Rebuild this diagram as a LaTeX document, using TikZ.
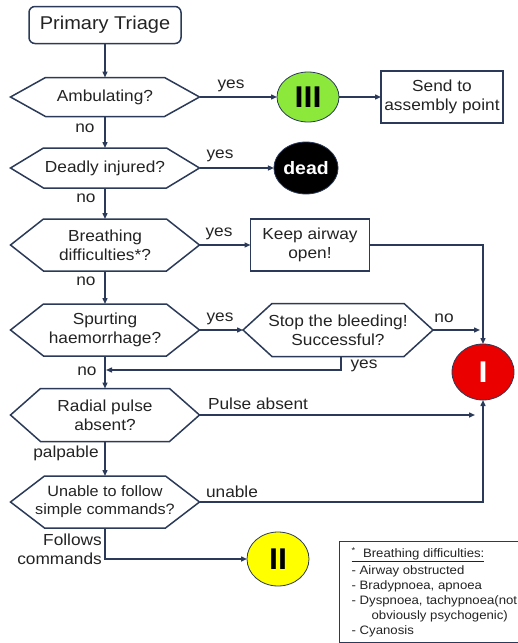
\documentclass[tikz,border=0pt]{standalone}
\usepackage{fontspec}
\setmainfont{Liberation Sans}[FakeStretch=1.08]
\usetikzlibrary{arrows.meta,shapes.geometric}
\definecolor{linec}{RGB}{42,58,88}
\definecolor{txtc}{RGB}{35,35,35}
\definecolor{greenc}{RGB}{140,232,58}
\definecolor{redc}{RGB}{235,0,0}
\definecolor{yellowc}{RGB}{255,255,0}
\newcommand\hexout[2]{\draw[hexline] (#1.west) -- ([xshift=#2]#1.north west) -- ([xshift=-#2]#1.north east) -- (#1.east) -- ([xshift=-#2]#1.south east) -- ([xshift=#2]#1.south west) -- cycle;}
\tikzset{
  base/.style={inner sep=0pt, outer sep=0pt, text=txtc, font=\fontsize{16}{19}\selectfont, align=center},
  hexnode/.style={base, rectangle, minimum width=189pt},
  hexline/.style={draw=linec, line width=1.5pt, line join=miter},
  boxnode/.style={base, rectangle, draw=linec, line width=1.5pt},
  oval/.style={ellipse, inner sep=0pt, outer sep=0pt, draw=linec, line width=0.8pt, minimum width=62pt},
  conn/.style={draw=linec, line width=1.4pt, -{Triangle[length=6pt,width=5pt]}},
  lbl/.style={inner sep=0pt, text=txtc, font=\fontsize{16}{19}\selectfont},
}
\begin{document}
\begin{tikzpicture}[x=1pt,y=-1pt]
\useasboundingbox (0,0) rectangle (518,643);
% start
\node[boxnode, rounded corners=6pt, minimum width=152pt, minimum height=37pt, font=\fontsize{18.5}{21}\selectfont] (triage) at (105,25) {Primary Triage};
% decisions
\node[hexnode, minimum height=39pt] (amb) at (105,97) {Ambulating?};
\node[hexnode, minimum height=40pt] (deadq) at (105,168) {Deadly injured?};
\node[hexnode, minimum height=52pt] (breath) at (105,245) {Breathing\\difficulties*?};
\node[hexnode, minimum height=52pt] (spurt) at (105,330) {Spurting\\haemorrhage?};
\node[hexnode, minimum height=53pt, minimum width=190pt] (stop) at (338,330) {Stop the bleeding!\\Successful?};
\node[hexnode, minimum height=53pt] (radial) at (105,415) {Radial pulse\\absent?};
\node[hexnode, minimum height=52pt, font=\fontsize{15}{18}\selectfont] (unable) at (105,502) {Unable to follow\\simple commands?};
\hexout{amb}{35}
\hexout{deadq}{33}
\hexout{breath}{33}
\hexout{spurt}{33}
\hexout{stop}{29}
\hexout{radial}{30}
\hexout{unable}{34}
% boxes
\node[boxnode, minimum width=122pt, minimum height=52pt] (send) at (442,97) {Send to\\assembly point};
\node[boxnode, minimum width=119pt, minimum height=52pt] (keep) at (310,245) {Keep airway\\open!};
% categories
\node[oval, fill=greenc, minimum height=50pt, font=\fontsize{30}{30}\selectfont\bfseries, text=black] (iii) at (308,97) {III};
\node[oval, fill=black, minimum height=52pt, font=\fontsize{18}{18}\selectfont\bfseries, text=white] (dead) at (306,168) {dead};
\node[oval, fill=redc, minimum height=56pt, font=\fontsize{30}{30}\selectfont\bfseries, text=white] (i) at (483,372) {I};
\node[oval, fill=yellowc, minimum height=54pt, font=\fontsize{30}{30}\selectfont\bfseries, text=black] (ii) at (278,559) {II};
% legend
\node[draw=linec, line width=0.8pt, anchor=north west, align=left, inner xsep=2pt, inner ysep=3pt, minimum width=190pt, minimum height=101pt, text=txtc, font=\fontsize{12.2}{15}\selectfont] (legend) at (339,541) {\underline{\textsuperscript{*}\ \ Breathing difficulties:}\\[1.5pt]- Airway obstructed\\- Bradypnoea, apnoea\\- Dyspnoea, tachypnoea(not\\\hspace*{20pt}obviously psychogenic)\\- Cyanosis};
% free ends
\coordinate (stopno) at (480,330);
\coordinate (yesjoin) at (106,370);
\coordinate (pulseend) at (475,415);
% main column
\draw[conn] (triage.south) -- (amb.north);
\draw[conn] (amb.south) -- (deadq.north);
\draw[conn] (deadq.south) -- (breath.north);
\draw[conn] (breath.south) -- (spurt.north);
\draw[conn] (spurt.south) -- (radial.north);
\draw[conn] (radial.south) -- (unable.north);
\draw[conn] (unable.south) |- (ii.west);
% right branches
\draw[conn] (amb.east) -- (iii.west);
\draw[conn] (iii.east) -- (send.west);
\draw[conn] (deadq.east) -- (dead.west);
\draw[conn] (breath.east) -- (keep.west);
\draw[conn] (keep.east) -| (i.north);
\draw[conn] (spurt.east) -- (stop.west);
\draw[conn] (stop.east) -- (stopno);
\draw[conn] ([xshift=3pt]stop.south) |- (yesjoin);
\draw[conn] (radial.east) -- (pulseend);
\draw[conn] (unable.east) -| (i.south);
% labels
\node[lbl] (l1) at (231,86) {yes};
\node[lbl] (l2) at (220,156) {yes};
\node[lbl] (l3) at (219,234) {yes};
\node[lbl] (l4) at (220,319) {yes};
\node[lbl] (l5) at (444,318) {no};
\node[lbl] (l6) at (364,366) {yes};
\node[lbl] (l7) at (258,404) {Pulse absent};
\node[lbl] (l8) at (232,492) {unable};
\node[lbl] (n1) at (85,128) {no};
\node[lbl] (n2) at (86,198) {no};
\node[lbl] (n3) at (86,281) {no};
\node[lbl] (n4) at (87,371) {no};
\node[lbl] (n5) at (66,453) {palpable};
\node[lbl, align=right, anchor=east] (n6) at (102,549) {Follows\\commands};
\end{tikzpicture}
\end{document}
